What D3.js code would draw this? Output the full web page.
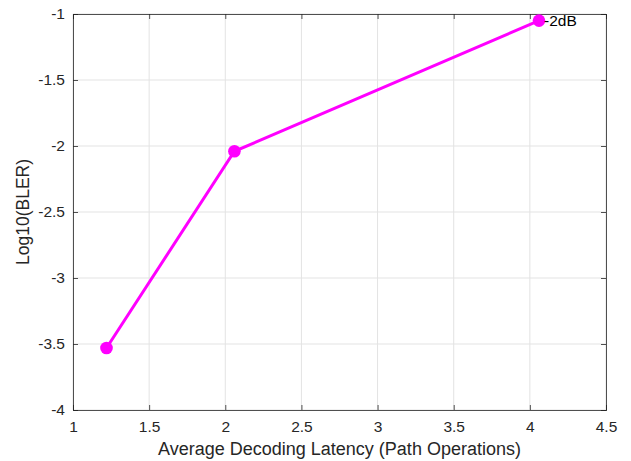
<!DOCTYPE html>
<html>
<head>
<meta charset="utf-8">
<script src="https://cdn.jsdelivr.net/npm/d3@7"></script>
<style>
  body { margin: 0; background: #fff; }
  svg text { font-family: "Liberation Sans", Arial, sans-serif; fill: #262626; }
</style>
</head>
<body>
<div id="chart"></div>
<script>
// Data
const latency = [1.22, 2.06, 4.06]
const logBler = [-3.53, -2.04, -1.05]
const pointLabels = ["", "", "-2dB"]
const xTicks = [1, 1.5, 2, 2.5, 3, 3.5, 4, 4.5]
const yTicks = [-4, -3.5, -3, -2.5, -2, -1.5, -1]

const dimensions = {
  width: 631,
  height: 461,
  margin: { top: 14, right: 25, bottom: 51, left: 73 }
}
dimensions.boundedWidth = dimensions.width - dimensions.margin.left - dimensions.margin.right
dimensions.boundedHeight = dimensions.height - dimensions.margin.top - dimensions.margin.bottom

const svg = d3.select("#chart").append("svg")
  .attr("width", dimensions.width)
  .attr("height", dimensions.height)

const bounds = svg.append("g")
  .attr("transform", `translate(${dimensions.margin.left},${dimensions.margin.top})`)

const xScale = d3.scaleLinear().domain([1, 4.5]).range([0, dimensions.boundedWidth])
const yScale = d3.scaleLinear().domain([-4, -1]).range([dimensions.boundedHeight, 0])

// grid
bounds.append("g").selectAll("line").data(xTicks).join("line")
  .attr("x1", d => xScale(d)).attr("x2", d => xScale(d))
  .attr("y1", 0).attr("y2", dimensions.boundedHeight)
  .attr("stroke", "#e3e3e3").attr("stroke-width", 1)
bounds.append("g").selectAll("line").data(yTicks).join("line")
  .attr("y1", d => yScale(d)).attr("y2", d => yScale(d))
  .attr("x1", 0).attr("x2", dimensions.boundedWidth)
  .attr("stroke", "#e3e3e3").attr("stroke-width", 1)

// axes (ticks inside, MATLAB style)
const xAxis = bounds.append("g")
  .attr("transform", `translate(0,${dimensions.boundedHeight})`)
  .call(d3.axisBottom(xScale).tickValues(xTicks).tickSize(-5).tickPadding(11).tickFormat(d => String(d)))
const yAxis = bounds.append("g")
  .call(d3.axisLeft(yScale).tickValues(yTicks).tickSize(-5).tickPadding(8).tickFormat(d => String(d)))
const xTop = bounds.append("g")
  .call(d3.axisTop(xScale).tickValues(xTicks).tickSize(-5).tickFormat(""))
const yRight = bounds.append("g")
  .attr("transform", `translate(${dimensions.boundedWidth},0)`)
  .call(d3.axisRight(yScale).tickValues(yTicks).tickSize(-5).tickFormat(""))

;[xAxis, yAxis, xTop, yRight].forEach(a => {
  a.selectAll("path, line").attr("stroke", "#262626").attr("stroke-width", 0.8)
  a.selectAll("text").style("font-size", "15.5px").attr("fill", "#262626")
})

// series
const points = latency.map((x, i) => ({ x, y: logBler[i], label: pointLabels[i] }))
const line = d3.line().x(d => xScale(d.x)).y(d => yScale(d.y))

bounds.append("path")
  .datum(points)
  .attr("d", line)
  .attr("fill", "none")
  .attr("stroke", "#ff00ff")
  .attr("stroke-width", 3)

bounds.append("g").selectAll("circle").data(points).join("circle")
  .attr("cx", d => xScale(d.x))
  .attr("cy", d => yScale(d.y))
  .attr("r", 6.3)
  .attr("fill", "#ff00ff")

bounds.append("g").selectAll("text").data(points.filter(d => d.label)).join("text")
  .attr("x", d => xScale(d.x) + 5)
  .attr("y", d => yScale(d.y))
  .attr("dy", "0.35em")
  .style("font-size", "15.5px")
  .style("fill", "#000")
  .text(d => d.label)

// axis labels
svg.append("text")
  .attr("x", dimensions.margin.left + dimensions.boundedWidth / 2)
  .attr("y", 455)
  .attr("text-anchor", "middle")
  .style("font-size", "18px")
  .text("Average Decoding Latency (Path Operations)")

svg.append("text")
  .attr("transform", `translate(29,${dimensions.margin.top + dimensions.boundedHeight / 2}) rotate(-90)`)
  .attr("text-anchor", "middle")
  .style("font-size", "17.5px")
  .text("Log10(BLER)")
</script>
</body>
</html>
